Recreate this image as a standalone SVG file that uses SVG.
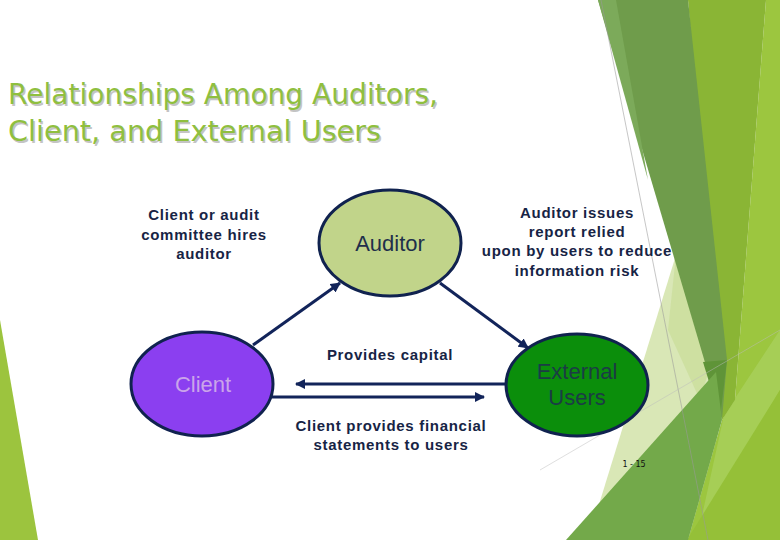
<svg xmlns="http://www.w3.org/2000/svg" width="780" height="540" viewBox="0 0 780 540">
  <defs>
    <marker id="arrow" viewBox="0 0 10 10" refX="9" refY="5" markerWidth="3.4" markerHeight="3.4" orient="auto" markerUnits="strokeWidth">
      <path d="M0,0 L10,5 L0,10 z" fill="#12245a"/>
    </marker>
    <style>
      .title { font-family: "DejaVu Sans", "Liberation Sans", sans-serif; font-size: 28px; fill: #8fbf3f; }
      .shadow { font-family: "DejaVu Sans", "Liberation Sans", sans-serif; font-size: 28px; fill: #c4c4c4; }
      .lbl { font-family: "Liberation Sans", Arial, sans-serif; font-size: 15px; letter-spacing: 0.7px; font-weight: bold; fill: #172445; text-anchor: middle; }
      .node { stroke: #10224f; stroke-width: 3; }
      .ntext { font-family: "Liberation Sans", Arial, sans-serif; font-size: 22px; text-anchor: middle; }
      .conn { stroke: #12245a; stroke-width: 3; fill: none; marker-end: url(#arrow); }
    </style>
  </defs>

  <!-- background -->
  <rect width="780" height="540" fill="#ffffff"/>
  <g id="background">
    <polygon points="0,320 38,540 0,540" fill="#9cc43e"/>
    <polygon points="676,255 724,395 700,540 588,540" fill="#d9e7b6"/>
    <polygon points="676,255 712,360 700,400 668,330" fill="#c9dd98" opacity="0.7"/>
    <polygon points="766,0 780,0 780,540 688,540 722,420 735,400" fill="#9cc63f"/>
    <polygon points="724,415 780,330 780,390 700,525" fill="#a9cf5c" opacity="0.8"/>
    <polygon points="687,540 780,390 780,540" fill="#95c038"/>
    <polygon points="688,0 766,0 735,400 722,420" fill="#8ab535"/>
    <polygon points="598,0 688,0 727,360 722,420" fill="#6f9c4b"/>
    <polygon points="598,0 616,0 648,180" fill="#7caa5a"/>
    <polygon points="703,362 727,360 720,418" fill="#5f9438"/>
    <polygon points="566,540 716,372 722,420 688,540" fill="#73a94a"/>
    <line x1="601" y1="0" x2="708" y2="540" stroke="#9a9a9a" stroke-width="0.8" opacity="0.7"/>
    <line x1="540" y1="470" x2="780" y2="330" stroke="#bdbdbd" stroke-width="0.8" opacity="0.6"/>
  </g>

  <!-- title -->
  <g id="title">
    <text class="shadow" x="9.5" y="105.5" textLength="430" lengthAdjust="spacingAndGlyphs">Relationships Among Auditors,</text>
    <text class="shadow" x="9.5" y="142.5" textLength="373" lengthAdjust="spacingAndGlyphs">Client, and External Users</text>
    <text class="title" x="8" y="104" textLength="430" lengthAdjust="spacingAndGlyphs">Relationships Among Auditors,</text>
    <text class="title" x="8" y="141" textLength="373" lengthAdjust="spacingAndGlyphs">Client, and External Users</text>
  </g>

  <!-- connectors -->
  <g id="connectors">
    <line class="conn" x1="253" y1="345" x2="340" y2="283"/>
    <line class="conn" x1="440" y1="283" x2="528" y2="348"/>
    <line class="conn" x1="506" y1="384" x2="296" y2="384"/>
    <line class="conn" x1="272" y1="397" x2="484" y2="397"/>
  </g>

  <!-- nodes -->
  <g id="auditor">
    <ellipse class="node" cx="390" cy="243" rx="71" ry="53" fill="#c1d48a"/>
    <text class="ntext" x="390" y="251" fill="#1f2f4a">Auditor</text>
  </g>
  <g id="client">
    <ellipse class="node" cx="202" cy="384" rx="71" ry="52" fill="#8b3ff0"/>
    <text class="ntext" x="203" y="392" fill="#caa4ea">Client</text>
  </g>
  <g id="external-users">
    <ellipse class="node" cx="577" cy="385" rx="71" ry="51" fill="#0b8e0b"/>
    <text class="ntext" x="577" y="379" fill="#1b3c45">External</text>
    <text class="ntext" x="577" y="405" fill="#1b3c45">Users</text>
  </g>

  <!-- labels -->
  <g id="labels">
    <text class="lbl" x="204" y="220">Client or audit</text>
    <text class="lbl" x="204" y="240">committee hires</text>
    <text class="lbl" x="204" y="259">auditor</text>
    <text class="lbl" x="577" y="218">Auditor issues</text>
    <text class="lbl" x="577" y="237">report relied</text>
    <text class="lbl" x="577" y="256">upon by users to reduce</text>
    <text class="lbl" x="577" y="276">information risk</text>
    <text class="lbl" x="390" y="360">Provides capital</text>
    <text class="lbl" x="391" y="431">Client provides financial</text>
    <text class="lbl" x="391" y="450">statements to users</text>
    <text x="634" y="467" font-family="DejaVu Sans, sans-serif" font-size="8" fill="#111" text-anchor="middle">1 - 15</text>
  </g>
</svg>
